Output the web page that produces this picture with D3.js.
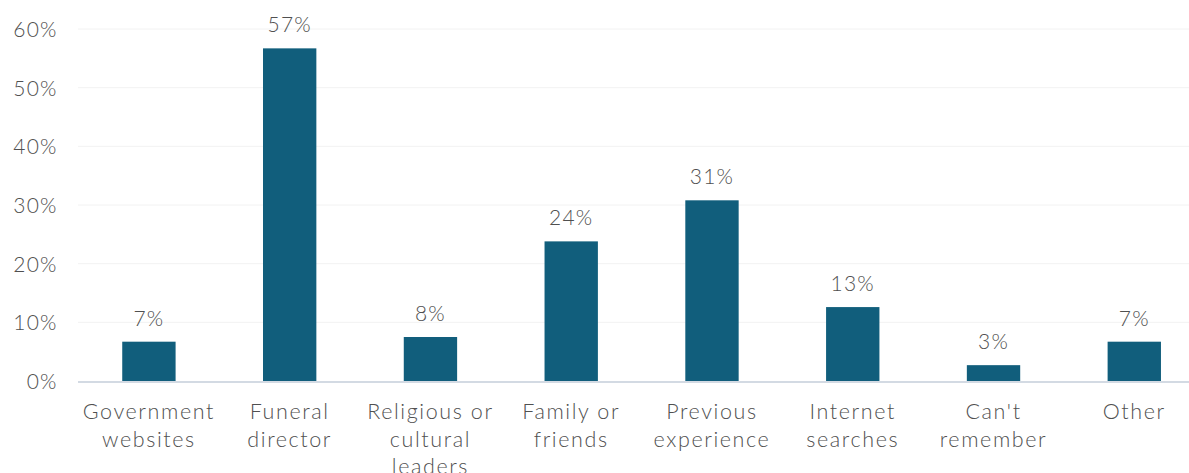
<!DOCTYPE html>
<html><head><meta charset="utf-8">
<script src="https://cdn.jsdelivr.net/npm/d3@7"></script>
<style>
body{margin:0;background:#fff;}
text{font-family:Lato,"Open Sans",sans-serif;fill:#505050;font-weight:300;}
</style></head>
<body><svg id="c" width="1189" height="473"></svg>
<script>
const categories = [["Government","websites"],["Funeral","director"],["Religious or","cultural","leaders"],["Family or","friends"],["Previous","experience"],["Internet","searches"],["Can't","remember"],["Other"]];
const values = [6.7, 56.7, 7.5, 23.8, 30.8, 12.6, 2.7, 6.7];
const valueLabels = ["7%","57%","8%","24%","31%","13%","3%","7%"];
const yTicks = [0,10,20,30,40,50,60];

(function(){
const svg = d3.select("#c");
const pl = 78.6, pr = 1204.6, pt = 29, pb = 381;
const x = d3.scaleBand().domain(d3.range(categories.length)).range([pl, pr]).paddingInner(0.621).paddingOuter(0.31);
const y = d3.scaleLinear().domain([0,60]).range([pb, pt]);

// gridlines
svg.append("g").selectAll("line").data(yTicks.filter(d=>d>0)).join("line")
  .attr("x1", 78).attr("x2", 1189).attr("y1", d=>y(d)).attr("y2", d=>y(d))
  .attr("stroke", "#f2f2f2").attr("stroke-width", 1);

// y axis
const ya = svg.append("g").attr("transform", `translate(${pl},0)`)
  .call(d3.axisLeft(y).tickValues(yTicks).tickFormat(d=>d+"%").tickSize(0).tickPadding(21));
ya.select(".domain").remove();
ya.selectAll("text").attr("font-size", 21).attr("font-family", "Lato").attr("fill", "#505050")
  .attr("font-weight", 300).attr("letter-spacing", 1.2).attr("dy","0.35em");

// bars
svg.append("g").selectAll("rect").data(values).join("rect")
  .attr("x", (d,i)=>x(i)).attr("width", x.bandwidth())
  .attr("y", d=>y(d)).attr("height", d=>y(0)-y(d))
  .attr("fill", "#115e7c");

// axis line
svg.append("line").attr("x1", 78).attr("x2", 1189).attr("y1", pb+1).attr("y2", pb+1)
  .attr("stroke", "#d3dae3").attr("stroke-width", 2);

// value labels
svg.append("g").selectAll("text").data(values).join("text")
  .attr("x", (d,i)=>x(i)+x.bandwidth()/2).attr("y", d=>y(d)-16)
  .attr("text-anchor","middle").attr("font-size", 21).attr("letter-spacing", 1.2).text((d,i)=>valueLabels[i]);

// x labels
const xl = svg.append("g").selectAll("text").data(categories).join("text")
  .attr("x", (d,i)=>x(i)+x.bandwidth()/2).attr("y", 419)
  .attr("text-anchor","middle").attr("font-size", 21.5).attr("letter-spacing", 1.6);
xl.selectAll("tspan").data(d=>d).join("tspan")
  .attr("x", function(){return this.parentNode.getAttribute("x");})
  .attr("dy", (d,i)=>i===0?0:27.5).text(d=>d);
})();
</script></body></html>
